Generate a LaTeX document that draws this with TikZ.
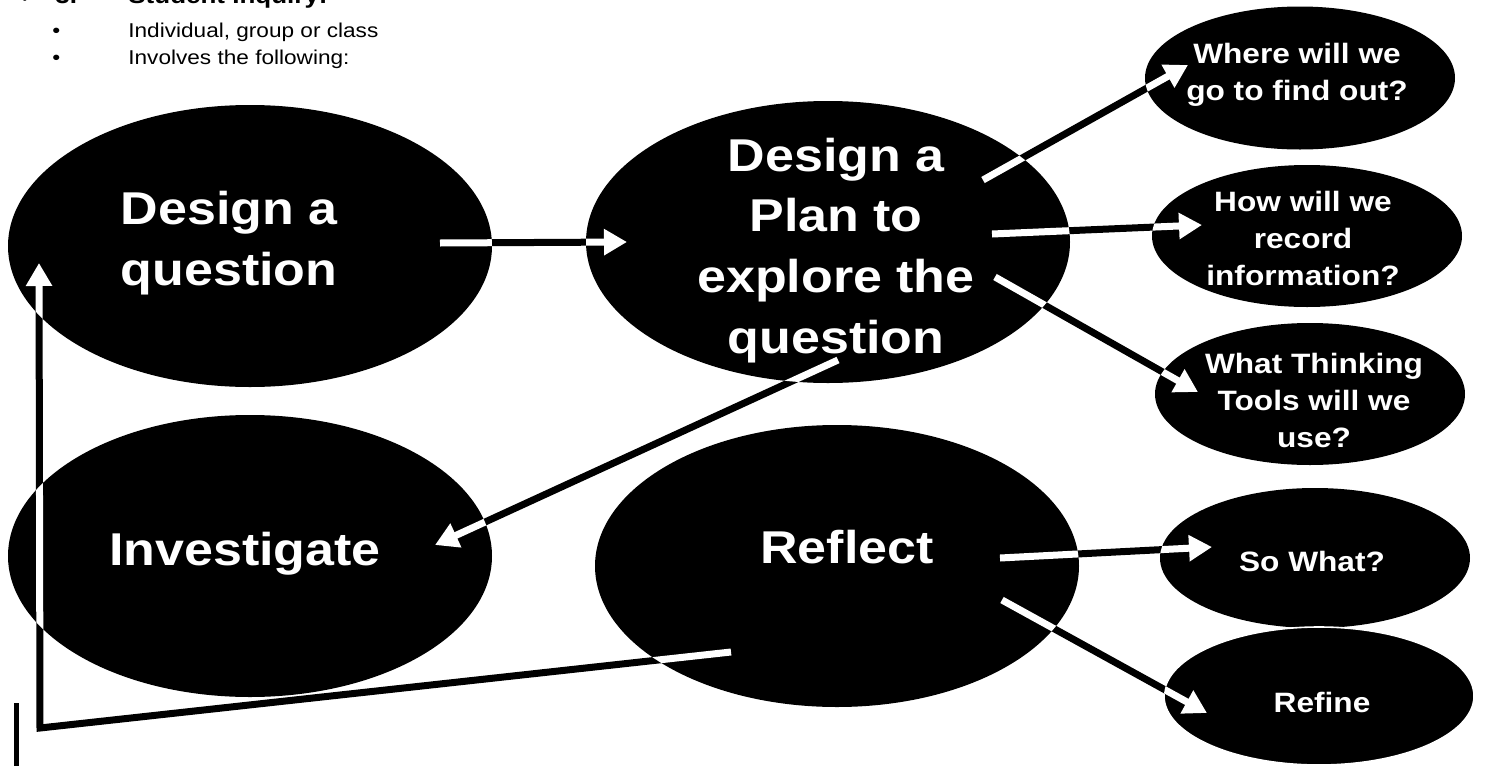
\documentclass[tikz,border=0pt]{standalone}
\usepackage{fontspec}
\setmainfont[FakeStretch=1.13]{Liberation Sans}
\newfontfamily\symbolfont[FakeStretch=1.13]{DejaVu Sans}
\usetikzlibrary{shapes.geometric,arrows.meta}
\newcommand\drawconnectors[1]{%
  \draw[conn,#1] (ab1) -- (ab2);
  \draw[conn,#1] (be1) -- (be2);
  \draw[conn,#1] (bf1) -- (bf2);
  \draw[conn,#1] (bg1) -- (bg2);
  \draw[conn,#1] (bc1) -- (bc2);
  \draw[conn,#1] (dh1) -- (dh2);
  \draw[conn,#1] (di1) -- (di2);
  \draw[conn,#1] (da1) -- (dac) -- (da2);
}
\begin{document}
\begin{tikzpicture}[x=0.5pt,y=-0.5pt,
  bigell/.style={ellipse,fill=black,inner sep=0pt,outer sep=0pt,minimum width=242pt,minimum height=141pt},
  smallell/.style={ellipse,fill=black,inner sep=0pt,outer sep=0pt,minimum width=155pt,minimum height=71pt},
  conn/.style={line width=3.5pt,line join=miter,-{Triangle[length=11.5pt,width=12.5pt]}},
  bigtxt/.style={text=white,font=\fontsize{23}{30.3}\selectfont\bfseries,align=center,inner sep=0pt,anchor=base},
  smalltxt/.style={text=white,font=\fontsize{14}{18.5}\selectfont\bfseries,align=center,inner sep=0pt,anchor=base},
  headtxt/.style={font=\fontsize{10}{13}\selectfont,inner sep=0pt,anchor=base west},
  titletxt/.style={font=\fontsize{11.5}{14}\selectfont\bfseries,inner sep=0pt,anchor=base west},
  ]
\useasboundingbox (0,0) rectangle (1485,766);

% heading
\node[titletxt] (tick) at (18,3) {\symbolfont ✓};
\node[titletxt] (num) at (55,3) {3.};
\node[titletxt] (title) at (128,3) {Student Inquiry:};
\node[headtxt] (bul1) at (52,37) {•};
\node[headtxt] (h1) at (128,37) {Individual, group or class};
\node[headtxt] (bul2) at (52,64) {•};
\node[headtxt] (h2) at (128,64) {Involves the following:};

% ellipses
\node[bigell] (A) at (250,246) {};
\node[bigell] (B) at (828,242) {};
\node[bigell] (C) at (250,556) {};
\node[bigell] (D) at (837,566) {};
\node[smallell,minimum height=71.5pt] (E) at (1300,78) {};
\node[smallell] (F) at (1307,236) {};
\node[smallell] (G) at (1310,394) {};
\node[smallell,minimum height=70pt] (H) at (1315,558) {};
\node[smallell,minimum height=69pt,draw=white,line width=0.8pt] (I) at (1319,696) {};

% connector end points
\coordinate (ab1) at (440,243);  \coordinate (ab2) at (627,242);
\coordinate (be1) at (983,180);  \coordinate (be2) at (1188,65);
\coordinate (bf1) at (992,234);  \coordinate (bf2) at (1202,225);
\coordinate (bg1) at (995,277);  \coordinate (bg2) at (1198,392);
\coordinate (bc1) at (838,360);  \coordinate (bc2) at (435,545);
\coordinate (dh1) at (1000,558); \coordinate (dh2) at (1212,547);
\coordinate (di1) at (1002,600); \coordinate (di2) at (1207,713);
\coordinate (da1) at (731,652);  \coordinate (dac) at (40,728);
\coordinate (da2) at (39,263);
\coordinate (s1) at (16,703);    \coordinate (s2) at (16,770);

% connectors: black outside the ellipses, white inside
\drawconnectors{black}
\begin{scope}
  \clip (A.center) ellipse [x radius=121pt, y radius=70.5pt]
        (B.center) ellipse [x radius=121pt, y radius=70.5pt]
        (C.center) ellipse [x radius=121pt, y radius=70.5pt]
        (D.center) ellipse [x radius=121pt, y radius=70.5pt]
        (E.center) ellipse [x radius=77.5pt, y radius=35.75pt]
        (F.center) ellipse [x radius=77.5pt, y radius=35.5pt]
        (G.center) ellipse [x radius=77.5pt, y radius=35.5pt]
        (H.center) ellipse [x radius=77.5pt, y radius=35pt]
        (I.center) ellipse [x radius=77.5pt, y radius=34.5pt];
  \drawconnectors{white}
\end{scope}
\draw[line width=2.5pt] (s1) -- (s2);

% texts
\node[bigtxt] (At) at (229,285) {Design a\\question};
\node[bigtxt] (Bt) at (836,353) {Design a\\Plan to\\explore the\\question};
\node[bigtxt] (Ct) at (245,565) {Investigate};
\node[bigtxt] (Dt) at (847,563) {Reflect};
\node[smalltxt] (Et) at (1297,100) {Where will we\\go to find out?};
\node[smalltxt] (Ft) at (1303,285) {How will we\\record\\information?};
\node[smalltxt] (Gt) at (1314,447) {What Thinking\\Tools will we\\use?};
\node[smalltxt] (Ht) at (1312,571) {So What?};
\node[smalltxt] (It) at (1322,712) {Refine};
\end{tikzpicture}
\end{document}
